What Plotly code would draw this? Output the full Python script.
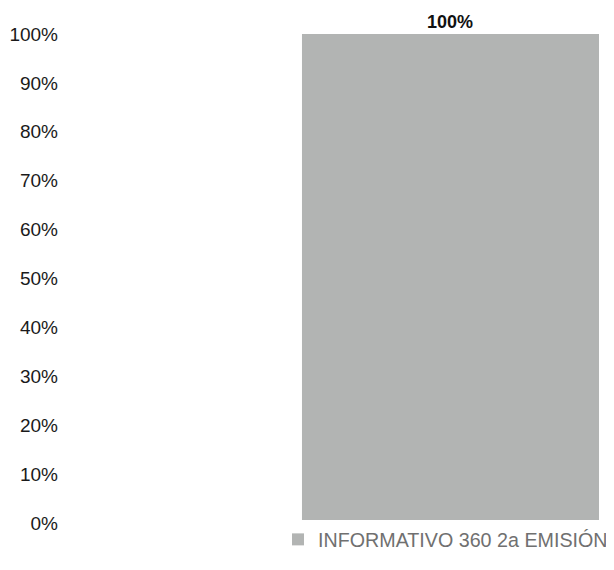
import plotly.graph_objects as go

# data
categories = ["INFORMATIVO 360 2a EMISIÓN"]
values = [100]
bar_labels = ["100%"]
y_ticks = [0, 10, 20, 30, 40, 50, 60, 70, 80, 90, 100]
y_tick_text = [f"{v}%" for v in y_ticks]

font_main = "Liberation Sans, Arial, sans-serif"

# page body adds an 8px margin, so the figure is 8px smaller than the window
W, H = 606, 562
plot_left, plot_right = 51, 606

fig = go.Figure()
fig.add_trace(go.Bar(
    x=[0],
    y=values,
    width=1,
    name=categories[0],
    marker=dict(color="#B2B4B3", line=dict(width=0)),
))

# value label above the bar
fig.add_annotation(
    x=0, y=values[0], xref="x", yref="y",
    text=f"<b>{bar_labels[0]}</b>",
    showarrow=False, yanchor="bottom", yshift=0,
    font=dict(family=font_main, size=18, color="#111111"),
)

fig.update_layout(
    width=W,
    height=H,
    margin=dict(l=plot_left, r=W - plot_right, t=26, b=47, autoexpand=False),
    plot_bgcolor="white",
    paper_bgcolor="white",
    showlegend=True,
    font=dict(family=font_main, color="#222222"),
    legend=dict(
        orientation="h",
        x=(270 - plot_left) / (plot_right - plot_left), y=0.006,
        xanchor="left", yanchor="top",
        font=dict(size=19.7, color="#707070", family=font_main),
    ),
    xaxis=dict(
        range=[-1.318, 0.5505],
        showticklabels=False,
        showgrid=False,
        zeroline=False,
        showline=False,
    ),
    yaxis=dict(
        range=[0, 100],
        tickmode="array",
        tickvals=y_ticks,
        ticktext=y_tick_text,
        showgrid=False,
        zeroline=False,
        showline=False,
        tickfont=dict(size=19, color="#1a1a1a", family=font_main),
    ),
)

fig.write_html("out.html")
